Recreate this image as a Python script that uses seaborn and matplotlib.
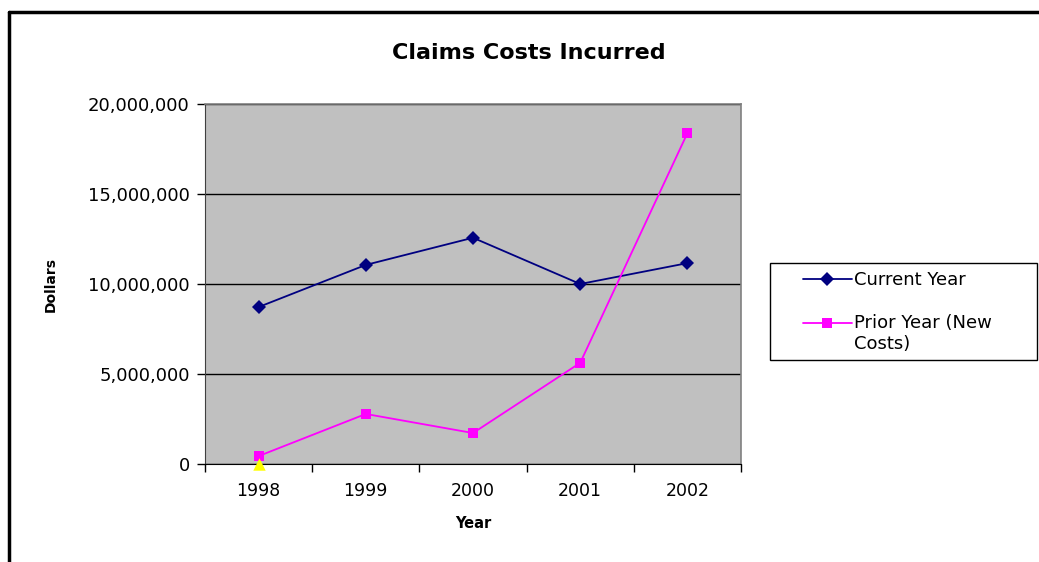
import matplotlib
matplotlib.use("Agg")
import matplotlib.pyplot as plt
from matplotlib.lines import Line2D
from matplotlib.patches import Rectangle
from matplotlib.ticker import FuncFormatter, FixedLocator
import numpy as np
import pandas as pd
import seaborn as sns

years = ["1998", "1999", "2000", "2001", "2002"]
current_year = [8720000, 11060000, 12570000, 10000000, 11160000]
prior_year = [440000, 2780000, 1720000, 5620000, 18380000]
other_year = [0]  # single point plotted for 1998

sns.set_style("white")
plt.rcParams["font.family"] = ["DejaVu Sans"]
plt.rcParams["text.color"] = "black"
plt.rcParams["axes.labelcolor"] = "black"
plt.rcParams["xtick.color"] = "black"
plt.rcParams["ytick.color"] = "black"

fig = plt.figure(figsize=(10.39, 5.62), dpi=100)
ax = fig.add_axes([205 / 1039, 1 - 464 / 562, 536 / 1039, 360 / 562])
ax.set_facecolor("#C0C0C0")

df = pd.DataFrame({
    "pos": list(range(len(years))) * 2,
    "value": current_year + prior_year,
    "series": ["Current Year"] * len(years) + ["Prior Year (New\nCosts)"] * len(years),
})
df_other = pd.DataFrame({"pos": [0], "value": other_year, "series": ["Other"]})

sns.lineplot(data=df, x="pos", y="value", hue="series", style="series",
             palette=["#000080", "#FF00FF"], markers=["D", "s"], dashes=False,
             markersize=7.5, markeredgewidth=0, linewidth=1.3, ax=ax)
sns.scatterplot(data=df_other, x="pos", y="value", color="#FFFF00", marker="^",
                s=80, linewidth=0, ax=ax, legend=False, zorder=5, clip_on=False)

ax.set_xlim(-0.5, 4.5)
ax.set_ylim(0, 20000000)
ax.yaxis.set_major_locator(FixedLocator([0, 5e6, 10e6, 15e6, 20e6]))
ax.yaxis.set_major_formatter(FuncFormatter(lambda v, p: f"{int(v):,}"))
ax.grid(axis="y", color="black", linewidth=1)
ax.set_axisbelow(True)

# ticks at category boundaries, labels centered on categories
ax.xaxis.set_major_locator(FixedLocator(np.arange(-0.5, 5, 1)))
ax.xaxis.set_major_formatter(FuncFormatter(lambda v, p: ""))
ax.xaxis.set_minor_locator(FixedLocator(range(len(years))))
ax.set_xticklabels(years, minor=True)
ax.tick_params(axis="x", which="major", direction="out", length=6, width=1, color="black", bottom=True)
ax.tick_params(axis="x", which="minor", length=0, labelsize=12.5, pad=13)
ax.tick_params(axis="y", direction="out", length=6, width=1, color="black", left=True,
               labelsize=13, pad=5)

for side in ["top", "right"]:
    ax.spines[side].set_color("#808080")
    ax.spines[side].set_linewidth(1.2)
ax.spines["left"].set_color("#404040")
ax.spines["bottom"].set_color("black")
for s in ax.spines.values():
    s.set_visible(True)

ax.set_xlabel("Year", fontsize=10.5, fontweight="bold")
ax.xaxis.set_label_coords(0.5, -(516 - 464) / 360)
ax.set_ylabel("Dollars", fontsize=10, fontweight="bold")
ax.yaxis.set_label_coords(-(205 - 58) / 536, 0.5)

fig.text(529 / 1039, 1 - 53 / 562, "Claims Costs Incurred", ha="center", va="center",
         fontsize=16, fontweight="bold")

# legend: box drawn separately, entries placed inside it with a left inset
handles, labels = ax.get_legend_handles_labels()
ax.get_legend().remove()
fig.add_artist(Rectangle((770 / 1039, 1 - 360 / 562), 267 / 1039, 97 / 562,
                         transform=fig.transFigure, facecolor="white",
                         edgecolor="black", linewidth=1, zorder=3))
leg = fig.legend(handles, labels, loc="upper left",
                 bbox_to_anchor=(803 / 1039, 1 - 271 / 562),
                 bbox_transform=fig.transFigure, fontsize=13, frameon=False,
                 handlelength=2.7, handletextpad=0.15, borderpad=0, borderaxespad=0,
                 labelspacing=1.4)
leg.set_zorder(5)
for t in leg.get_texts():
    t.set_multialignment("left")
# keep the second handle level with the first line of its label
h2 = leg.legend_handles[1]
h2.set_ydata(np.asarray(h2.get_ydata()) + 8)

# outer chart border
fig.add_artist(Line2D([9 / 1039, 1], [1 - 12 / 562, 1 - 12 / 562], color="black", linewidth=2.5,
                      transform=fig.transFigure))
fig.add_artist(Line2D([9 / 1039, 9 / 1039], [0, 1 - 12 / 562], color="black", linewidth=2.5,
                      transform=fig.transFigure))

fig.savefig("out.png", dpi=100)
